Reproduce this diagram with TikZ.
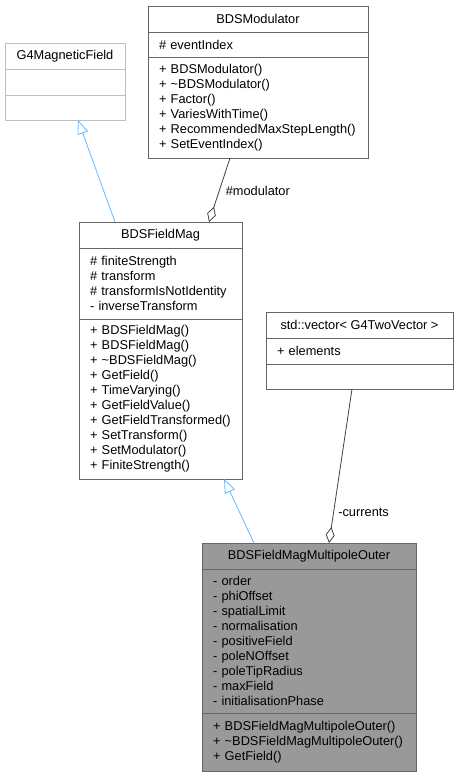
\documentclass[tikz,border=0pt]{standalone}
\usepackage{fontspec}
\setmainfont{Liberation Sans}
\usetikzlibrary{arrows.meta, positioning}

\definecolor{boxgray}{HTML}{666666}
\definecolor{extgray}{HTML}{BFBFBF}
\definecolor{boxfill}{HTML}{999999}
\definecolor{isablue}{HTML}{63B8FF}
\definecolor{hasgray}{HTML}{404040}

\begin{document}
\begin{tikzpicture}[x=1pt, y=-1pt,
  cls/.style={draw=boxgray, fill=white, line width=1pt, outer sep=0pt, inner ysep=0pt, font=\fontsize{12.8}{15}\selectfont},
  head/.style={cls, minimum width=#1, minimum height=26pt, inner xsep=0pt},
  part/.style={cls, text width=#1, inner xsep=11pt, align=left},
  isa/.style={draw=isablue, line width=0.8pt, -{Triangle[open, length=14pt, width=11pt]}},
  hasa/.style={draw=hasgray, line width=0.8pt, -{Diamond[open, length=16pt, width=9pt]}},
  lbl/.style={font=\fontsize{12.8}{15}\selectfont, anchor=west}]
\useasboundingbox (0,0) rectangle (458,777);

% G4MagneticField
\node[head=120pt, draw=extgray, anchor=north west] (g1) at (5,43) {G4MagneticField};
\node[part=98pt, draw=extgray, minimum height=26pt, below=0pt of g1] (g2) {};
\node[part=98pt, draw=extgray, minimum height=25pt, below=0pt of g2] (g3) {};

% BDSModulator
\node[head=220pt, anchor=north west] (m1) at (148,6) {BDSModulator};
\node[part=198pt, minimum height=25pt, below=0pt of m1] (m2) {\# eventIndex};
\node[part=198pt, minimum height=101pt, below=0pt of m2] (m3) {+ BDSModulator()\\+ \textasciitilde BDSModulator()\\+ Factor()\\+ VariesWithTime()\\+ RecommendedMaxStepLength()\\+ SetEventIndex()};

% BDSFieldMag
\node[head=163pt, anchor=north west] (f1) at (79,222) {BDSFieldMag};
\node[part=141pt, minimum height=71pt, below=0pt of f1] (f2) {\# finiteStrength\\\# transform\\\# transformIsNotIdentity\\- inverseTransform};
\node[part=141pt, minimum height=160pt, below=0pt of f2] (f3) {+ BDSFieldMag()\\+ BDSFieldMag()\\+ \textasciitilde BDSFieldMag()\\+ GetField()\\+ TimeVarying()\\+ GetFieldValue()\\+ GetFieldTransformed()\\+ SetTransform()\\+ SetModulator()\\+ FiniteStrength()};

% std::vector
\node[head=187pt, anchor=north west] (v1) at (266,312) {std::vector\textless{} G4TwoVector \textgreater};
\node[part=165pt, minimum height=26pt, below=0pt of v1] (v2) {+ elements};
\node[part=165pt, minimum height=25pt, below=0pt of v2] (v3) {};

% BDSFieldMagMultipoleOuter
\node[head=214pt, fill=boxfill, anchor=north west] (o1) at (202,543) {BDSFieldMagMultipoleOuter};
\node[part=192pt, fill=boxfill, minimum height=144pt, below=0pt of o1] (o2) {- order\\- phiOffset\\- spatialLimit\\- normalisation\\- positiveField\\- poleNOffset\\- poleTipRadius\\- maxField\\- initialisationPhase};
\node[part=192pt, fill=boxfill, minimum height=58pt, below=0pt of o2] (o3) {+ BDSFieldMagMultipoleOuter()\\+ \textasciitilde BDSFieldMagMultipoleOuter()\\+ GetField()};

\draw[isa] ([xshift=36pt]f1.north west) -- ([xshift=73pt]g3.south west);
\draw[isa] ([xshift=52pt]o1.north west) -- ([xshift=145pt]f3.south west);
\draw[hasa] ([xshift=82pt]m3.south west) -- node[lbl, pos=0.52, xshift=3pt] {\#modulator} ([xshift=130pt]f1.north west);
\draw[hasa] ([xshift=86pt]v3.south west) -- node[lbl, pos=0.8, xshift=1pt] {-currents} ([xshift=127pt]o1.north west);
\end{tikzpicture}
\end{document}
